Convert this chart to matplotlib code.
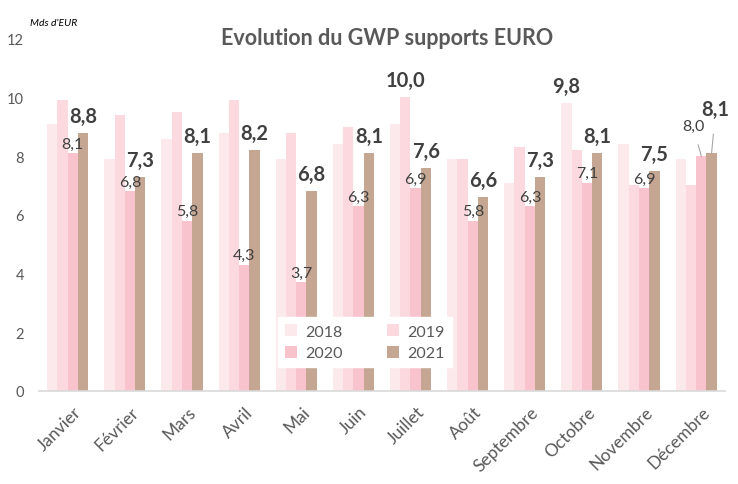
import matplotlib.pyplot as plt
from matplotlib.transforms import ScaledTranslation
import numpy as np

# ==========================================
# DATA
# ==========================================

months = ["Janvier", "Février", "Mars", "Avril", "Mai", "Juin",
          "Juillet", "Août", "Septembre", "Octobre", "Novembre", "Décembre"]

years = ["2018", "2019", "2020", "2021"]

gwp_2018 = [9.1, 7.9, 8.6, 8.8, 7.9, 8.4, 9.1, 7.9, 7.1, 9.8, 8.4, 7.9]
gwp_2019 = [9.9, 9.4, 9.5, 9.9, 8.8, 9.0, 10.0, 7.9, 8.3, 8.2, 7.0, 7.0]
gwp_2020 = [8.1, 6.8, 5.8, 4.3, 3.7, 6.3, 6.9, 5.8, 6.3, 7.1, 6.9, 8.0]
gwp_2021 = [8.8, 7.3, 8.1, 8.2, 6.8, 8.1, 7.6, 6.6, 7.3, 8.1, 7.5, 8.1]

colors = ["#FCE9EC", "#FBD9DF", "#F9C3CD", "#C4A692"]

plt.rcParams["font.family"] = ["Lato", "DejaVu Sans"]

# ==========================================
# CHART
# ==========================================

fig = plt.figure(figsize=(7.38, 4.85), dpi=100)
ax = fig.add_axes([0.053, 0.192, 0.929, 0.726])

x = np.arange(len(months))
width = 0.18
series = [gwp_2018, gwp_2019, gwp_2020, gwp_2021]

bars = []
for i, values in enumerate(series):
    b = ax.bar(x + (i - 1.5) * width, values, width,
               color=colors[i], label=years[i], zorder=2)
    bars.append(b)

ax.set_xlim(-0.5, len(months) - 0.5)
ax.set_ylim(0, 12)
ax.set_yticks(range(0, 13, 2))

ax.set_xticks(x)
ax.set_xticklabels(months, rotation=45, ha="right", rotation_mode="anchor")

ax.tick_params(axis="both", length=0, colors="#595959")
ax.tick_params(axis="x", pad=9, labelsize=12.5)
ax.tick_params(axis="y", pad=11, labelsize=10.5)

# shift month labels a bit to the right, like Excel does
shift = ScaledTranslation(4 / 72, 0, fig.dpi_scale_trans)
for lbl in ax.get_xticklabels():
    lbl.set_transform(lbl.get_transform() + shift)

for side in ["top", "right", "left"]:
    ax.spines[side].set_visible(False)
ax.spines["bottom"].set_color("#D9D9D9")
ax.spines["bottom"].set_linewidth(1.2)

# ==========================================
# LABELS
# ==========================================

label_color = "#404040"
small = 11.5
big = 14.5

for i in range(len(months) - 1):
    # 2020 labels
    ax.annotate(f"{gwp_2020[i]:.1f}".replace(".", ","),
                (x[i] + 0.5 * width, gwp_2020[i]),
                xytext=(0, 4), textcoords="offset points",
                ha="center", va="baseline", fontsize=small, color=label_color)
    # 2021 labels
    ax.annotate(f"{gwp_2021[i]:.1f}".replace(".", ","),
                (x[i] + 1.5 * width, gwp_2021[i]),
                xytext=(0, 8), textcoords="offset points",
                ha="center", va="baseline", fontsize=big,
                fontweight="bold", color=label_color)

# highlighted highs
j = months.index("Juillet")
ax.annotate(f"{gwp_2019[j]:.1f}".replace(".", ","),
            (x[j] - 0.5 * width, gwp_2019[j]),
            xytext=(0, 8), textcoords="offset points",
            ha="center", va="baseline", fontsize=big,
            fontweight="bold", color=label_color)

o = months.index("Octobre")
ax.annotate(f"{gwp_2018[o]:.1f}".replace(".", ","),
            (x[o] - 1.5 * width, gwp_2018[o]),
            xytext=(0, 8), textcoords="offset points",
            ha="center", va="baseline", fontsize=big,
            fontweight="bold", color=label_color)

# Décembre, labels pulled out with leader lines
d = len(months) - 1
ax.annotate(f"{gwp_2020[d]:.1f}".replace(".", ","),
            (x[d] + 0.5 * width, gwp_2020[d]),
            xytext=(-6, 22), textcoords="offset points",
            ha="center", va="center", fontsize=small, color=label_color,
            arrowprops=dict(arrowstyle="-", color="#A6A6A6", lw=0.8,
                            shrinkA=7, shrinkB=0))
ax.annotate(f"{gwp_2021[d]:.1f}".replace(".", ","),
            (x[d] + 1.5 * width, gwp_2021[d]),
            xytext=(3, 32), textcoords="offset points",
            ha="center", va="center", fontsize=big,
            fontweight="bold", color=label_color,
            arrowprops=dict(arrowstyle="-", color="#A6A6A6", lw=0.8,
                            shrinkA=9, shrinkB=0))

# ==========================================
# TITLE / LEGEND
# ==========================================

fig.text(0.525, 0.921, "Evolution du GWP supports EURO",
         ha="center", va="center", fontsize=15.5,
         fontweight="bold", color="#595959")

fig.text(0.041, 0.951, "Mds d'EUR", ha="left", va="center",
         fontsize=7.5, style="italic", color="black")

# rows: 2018 2019 / 2020 2021
order = [0, 2, 1, 3]
handles = [bars[k] for k in order]
names = [years[k] for k in order]

leg = ax.legend(handles, names, ncol=2, loc="center",
                bbox_to_anchor=(0.475, 0.138),
                frameon=True, fontsize=11.5, handlelength=0.75,
                handleheight=0.75, columnspacing=2.8, handletextpad=0.5,
                borderpad=0.45, labelspacing=0.45, fancybox=False)
leg.get_frame().set_facecolor("white")
leg.get_frame().set_edgecolor("white")
leg.get_frame().set_alpha(1)
leg.set_zorder(5)
for t in leg.get_texts():
    t.set_color("#595959")

fig.savefig("out.png", dpi=100)
